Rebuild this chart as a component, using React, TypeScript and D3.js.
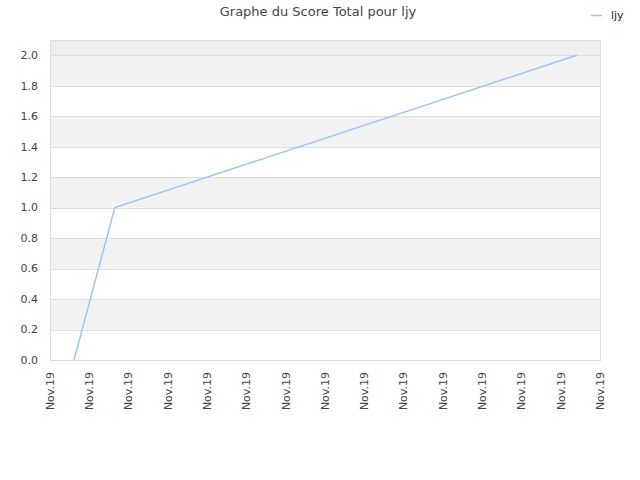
import React, { useEffect, useRef } from 'react';
import * as d3 from 'd3';

// tick labels along x (all the same day label)
const xLabels = Array.from({ length: 15 }, () => 'Nov.19');
// score points: x in tick units, y = score
const pointX = [0.61, 1.65, 13.41];
const pointY = [0, 1.0, 2.0];
const yTicks = [0, 0.2, 0.4, 0.6, 0.8, 1.0, 1.2, 1.4, 1.6, 1.8, 2.0];
const seriesName = 'ljy';
const title = 'Graphe du Score Total pour ljy';

const W = 640;
const H = 480;
const margin = { top: 40, right: 40, bottom: 120, left: 50 };

const App = () => {
  const ref = useRef<SVGSVGElement>(null);

  useEffect(() => {
    const svg = d3.select(ref.current);
    svg.selectAll('*').remove();
    const font = 'DejaVu Sans, sans-serif';

    const x = d3.scaleLinear().domain([0, xLabels.length - 1]).range([margin.left, W - margin.right]);
    const y = d3.scaleLinear().domain([0, 2.1]).range([H - margin.bottom, margin.top]);

    svg.append('rect').attr('width', W).attr('height', H).attr('fill', '#fff');

    // alternating bands
    const bands = [[0.2, 0.4], [0.6, 0.8], [1.0, 1.2], [1.4, 1.6], [1.8, 2.0]];
    svg.selectAll('.band').data(bands).enter().append('rect')
      .attr('x', margin.left)
      .attr('width', W - margin.right - margin.left)
      .attr('y', d => y(d[1]))
      .attr('height', d => y(d[0]) - y(d[1]))
      .attr('fill', '#f2f2f2');
    svg.append('rect')
      .attr('x', margin.left)
      .attr('width', W - margin.right - margin.left)
      .attr('y', y(2.1))
      .attr('height', y(2.0) - y(2.1))
      .attr('fill', '#eeeeee');

    // grid lines
    svg.selectAll('.grid').data(yTicks).enter().append('line')
      .attr('x1', margin.left).attr('x2', W - margin.right)
      .attr('y1', d => Math.round(y(d)) + 0.5).attr('y2', d => Math.round(y(d)) + 0.5)
      .attr('stroke', '#dddddd');

    // plot border
    svg.append('rect')
      .attr('x', margin.left + 0.5).attr('y', margin.top + 0.5)
      .attr('width', W - margin.right - margin.left).attr('height', H - margin.bottom - margin.top)
      .attr('fill', 'none').attr('stroke', '#dddddd');

    // y labels
    svg.selectAll('.ylab').data(yTicks).enter().append('text')
      .attr('x', margin.left - 12).attr('y', d => y(d))
      .attr('dy', '0.35em').attr('text-anchor', 'end')
      .attr('font-family', font).attr('font-size', 11).attr('fill', '#444')
      .text(d => d.toFixed(1));

    // x labels
    svg.selectAll('.xlab').data(xLabels).enter().append('text')
      .attr('transform', (d, i) => `translate(${x(i)},${H - margin.bottom + 12}) rotate(-90)`)
      .attr('dy', '0.35em').attr('text-anchor', 'end')
      .attr('font-family', font).attr('font-size', 11).attr('fill', '#444')
      .text(d => d);

    // series line
    const pts = pointX.map((v, i) => [v, pointY[i]] as [number, number]);
    const line = d3.line<[number, number]>().x(d => x(d[0])).y(d => y(d[1]));
    svg.append('path').datum(pts)
      .attr('d', line)
      .attr('fill', 'none').attr('stroke', '#99c5f4').attr('stroke-width', 1.5);

    // title
    svg.append('text')
      .attr('x', 318).attr('y', 16).attr('text-anchor', 'middle')
      .attr('font-family', font).attr('font-size', 13).attr('fill', '#444')
      .text(title);

    // legend
    svg.append('line')
      .attr('x1', 591).attr('x2', 602).attr('y1', 15.5).attr('y2', 15.5)
      .attr('stroke', '#99c5f4').attr('stroke-width', 1.5);
    svg.append('text')
      .attr('x', 611).attr('y', 15).attr('dy', '0.35em')
      .attr('font-family', font).attr('font-size', 11).attr('fill', '#222')
      .text(seriesName);
  }, []);

  return (
    <svg ref={ref} width={W} height={H} style={{ position: 'absolute', left: 0, top: 0 }} />
  );
};

export default App;
